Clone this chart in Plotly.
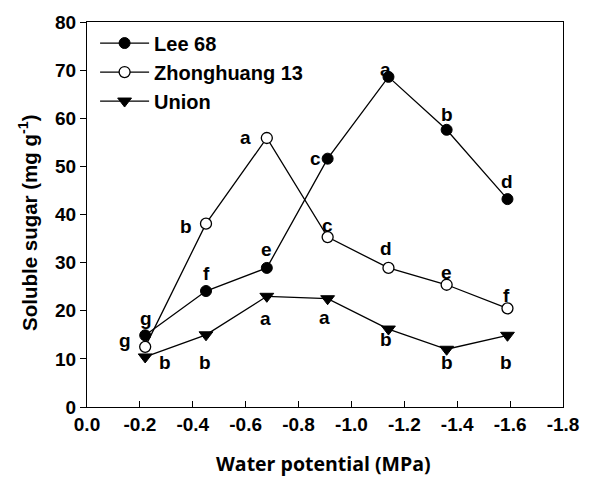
import plotly.graph_objects as go

# ---- data ----
water_potential = [-0.22, -0.45, -0.68, -0.91, -1.14, -1.36, -1.59]
lee68 = [14.9, 24.1, 28.9, 51.6, 68.6, 57.6, 43.2]
zhonghuang13 = [12.5, 38.1, 55.9, 35.3, 28.9, 25.4, 20.5]
union = [10.4, 15.0, 23.0, 22.5, 16.2, 12.0, 14.9]

lee68_letters = ["g", "f", "e", "c", "a", "b", "d"]
zhonghuang13_letters = ["g", "b", "a", "c", "d", "e", "f"]
union_letters = ["b", "b", "a", "a", "b", "b", "b"]

x_tick_vals = [0.0, -0.2, -0.4, -0.6, -0.8, -1.0, -1.2, -1.4, -1.6, -1.8]
x_tick_text = ["0.0", "-0.2", "-0.4", "-0.6", "-0.8", "-1.0", "-1.2", "-1.4", "-1.6", "-1.8"]

# label offsets (px) relative to each point
lee68_offsets = [(1, 17), (0, 18), (0, 18), (-12, 0), (-3, 7), (0, 15), (0, 18)]
zh_offsets = [(-20, 6), (-20, -3), (-21, 0), (0, 12), (-2, 19), (0, 12), (-1, 13)]
union_offsets = [(20, -6), (-1, -28), (-1, -22), (-3, -19), (-2, -10), (0, -13), (-1, -27)]

FONT = "Liberation Sans, Arial, sans-serif"

fig = go.Figure()
fig.add_trace(go.Scatter(
    x=water_potential, y=lee68, name="Lee 68", mode="lines+markers",
    line=dict(color="black", width=1.3),
    marker=dict(symbol="circle", size=11, color="black", line=dict(color="black", width=1))))
fig.add_trace(go.Scatter(
    x=water_potential, y=zhonghuang13, name="Zhonghuang 13", mode="lines+markers",
    line=dict(color="black", width=1.3),
    marker=dict(symbol="circle", size=11, color="white", line=dict(color="black", width=1.3))))
fig.add_trace(go.Scatter(
    x=water_potential, y=union, name="Union", mode="lines+markers",
    line=dict(color="black", width=1.3),
    marker=dict(symbol="triangle-down", size=12, color="black", line=dict(color="black", width=1))))

annotations = []
for ys, letters, offs in [(lee68, lee68_letters, lee68_offsets),
                          (zhonghuang13, zhonghuang13_letters, zh_offsets),
                          (union, union_letters, union_offsets)]:
    for xv, yv, t, (dx, dy) in zip(water_potential, ys, letters, offs):
        annotations.append(dict(
            x=xv, y=yv, text=t, showarrow=False, xshift=dx, yshift=dy,
            xanchor="center", yanchor="middle",
            font=dict(family=FONT, size=19, color="black", weight="bold")))

annotations.append(dict(
    text="Water potential (MPa)", xref="paper", yref="paper", x=0.496, y=0,
    xanchor="center", yanchor="middle", yshift=-56, showarrow=False,
    font=dict(family="Open Sans, sans-serif", size=19.5, color="black", weight="bold")))
annotations.append(dict(
    text="Soluble sugar (mg g<sup>-1</sup>)", xref="paper", yref="paper", x=0, y=0.478,
    xanchor="center", yanchor="middle", xshift=-59, textangle=-90, showarrow=False,
    font=dict(family=FONT, size=20.5, color="black", weight="bold")))

fig.update_layout(
    width=591, height=477,
    margin=dict(l=87, r=24, t=20, b=70),
    plot_bgcolor="white", paper_bgcolor="white",
    showlegend=True,
    legend=dict(x=0.017, y=0.996, xanchor="left", yanchor="top",
                bgcolor="rgba(0,0,0,0)", borderwidth=0,
                font=dict(family=FONT, size=20, color="black", weight="bold"),
                itemwidth=49, tracegroupgap=0),
    annotations=annotations,
    font=dict(family=FONT, color="black"),
)
fig.update_xaxes(
    range=[0, -1.8], tickvals=x_tick_vals, ticktext=x_tick_text,
    ticks="inside", ticklen=6, tickwidth=1, tickcolor="black",
    showline=True, linecolor="black", linewidth=1, mirror=True,
    showgrid=False, zeroline=False,
    tickfont=dict(family=FONT, size=19, color="black", weight="bold"))
fig.update_yaxes(
    range=[0, 80], dtick=10, tick0=0,
    ticks="outside", ticklen=6, tickwidth=1, tickcolor="black",
    showline=True, linecolor="black", linewidth=1, mirror=True,
    showgrid=False, zeroline=False,
    tickfont=dict(family=FONT, size=19, color="black", weight="bold"))

fig.write_html("out.html")
